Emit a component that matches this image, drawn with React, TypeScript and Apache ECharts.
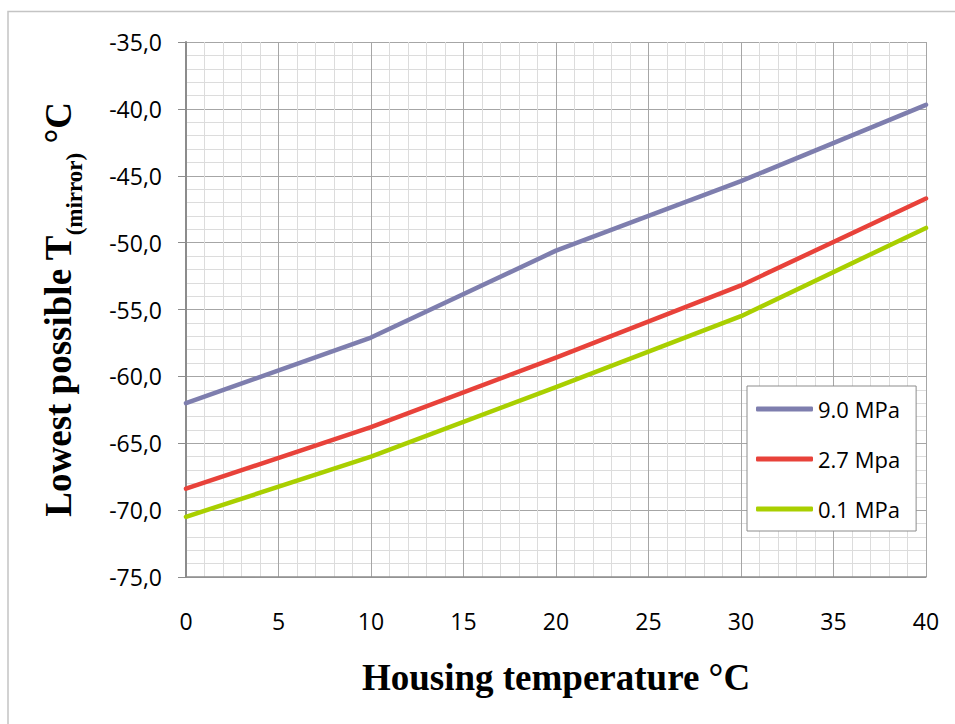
import React, { useEffect, useRef } from "react";
import * as echarts from "echarts";

const xValues = [0, 10, 20, 30, 40];
const seriesNames = ["9.0 MPa", "2.7 Mpa", "0.1 MPa"];
const s90 = [-62.0, -57.1, -50.6, -45.4, -39.7];
const s27 = [-68.4, -63.8, -58.6, -53.2, -46.7];
const s01 = [-70.5, -66.0, -60.8, -55.5, -48.9];
const colors = ["#7E7EAE", "#E8423A", "#A9CF00"];

const App: React.FC = () => {
  const ref = useRef<HTMLDivElement>(null);
  useEffect(() => {
    if (!ref.current) return;
    const chart = echarts.init(ref.current, null, { renderer: "svg" });
    const values = [s90, s27, s01];
    const tickFont = { fontFamily: "Open Sans", fontSize: 23, color: "#000" };
    chart.setOption({
      animation: false,
      backgroundColor: "#fff",
      graphic: [
        {
          type: "rect",
          shape: { x: 8, y: 11.5, width: 1000, height: 800 },
          style: { fill: "none", stroke: "#c4c4c4", lineWidth: 1.5 },
          silent: true,
        },
      ],
      grid: { left: 186, right: 29, top: 42, bottom: 147 },
      legend: {
        orient: "vertical",
        left: 747,
        top: 386,
        backgroundColor: "#fff",
        borderColor: "#8c8c8c",
        borderWidth: 1,
        padding: [12, 16, 11, 9],
        itemGap: 28,
        itemWidth: 57,
        itemHeight: 5,
        itemTextGap: 2,
        icon: "roundRect",
        textStyle: { ...tickFont, fontSize: 22 },
        data: seriesNames,
      },
      xAxis: {
        type: "value",
        min: 0,
        max: 40,
        interval: 5,
        name: "Housing temperature °C",
        nameLocation: "middle",
        nameGap: 82,
        nameTextStyle: {
          fontFamily: "Liberation Serif",
          fontWeight: "bold",
          fontSize: 37,
          color: "#000",
        },
        axisLine: { show: true, lineStyle: { color: "#8c8c8c", width: 1.5 } },
        axisTick: { show: false },
        axisLabel: { ...tickFont, margin: 32 },
        splitLine: { show: true, lineStyle: { color: "#a6a6a6", width: 1 } },
        minorTick: { show: false, splitNumber: 5 },
        minorSplitLine: { show: true, lineStyle: { color: "#dcdcdc", width: 1 } },
      },
      yAxis: {
        type: "value",
        min: -75,
        max: -35,
        interval: 5,
        name: "{a|Lowest possible T}{s|(mirror)}{a| °C}",
        nameLocation: "middle",
        nameRotate: 90,
        nameGap: 100,
        nameTextStyle: {
          rich: {
            a: {
              fontFamily: "Liberation Serif",
              fontWeight: "bold",
              fontSize: 37,
              color: "#000",
              lineHeight: 44,
              verticalAlign: "middle",
            },
            s: {
              fontFamily: "Liberation Serif",
              fontWeight: "bold",
              fontSize: 23,
              color: "#000",
              lineHeight: 56,
              verticalAlign: "bottom",
            },
          },
        },
        axisLine: { show: true, lineStyle: { color: "#8c8c8c", width: 2 } },
        axisTick: { show: true, length: 8, inside: false, lineStyle: { color: "#8c8c8c" } },
        axisLabel: {
          ...tickFont,
          margin: 24,
          formatter: (v: number) => v.toFixed(1).replace(".", ","),
        },
        splitLine: { show: true, lineStyle: { color: "#a6a6a6", width: 1 } },
        minorTick: { show: false, splitNumber: 5 },
        minorSplitLine: { show: true, lineStyle: { color: "#dcdcdc", width: 1 } },
      },
      series: seriesNames.map((name, i) => ({
        name,
        type: "line",
        data: xValues.map((x, j) => [x, values[i][j]]),
        symbol: "none",
        smooth: false,
        color: colors[i],
        lineStyle: { color: colors[i], width: 4.5, cap: "round", join: "round" },
        z: 3,
      })),
    });
    return () => chart.dispose();
  }, []);
  return (
    <div
      ref={ref}
      style={{ position: "fixed", left: 0, top: 0, width: 955, height: 724 }}
    />
  );
};

export default App;
